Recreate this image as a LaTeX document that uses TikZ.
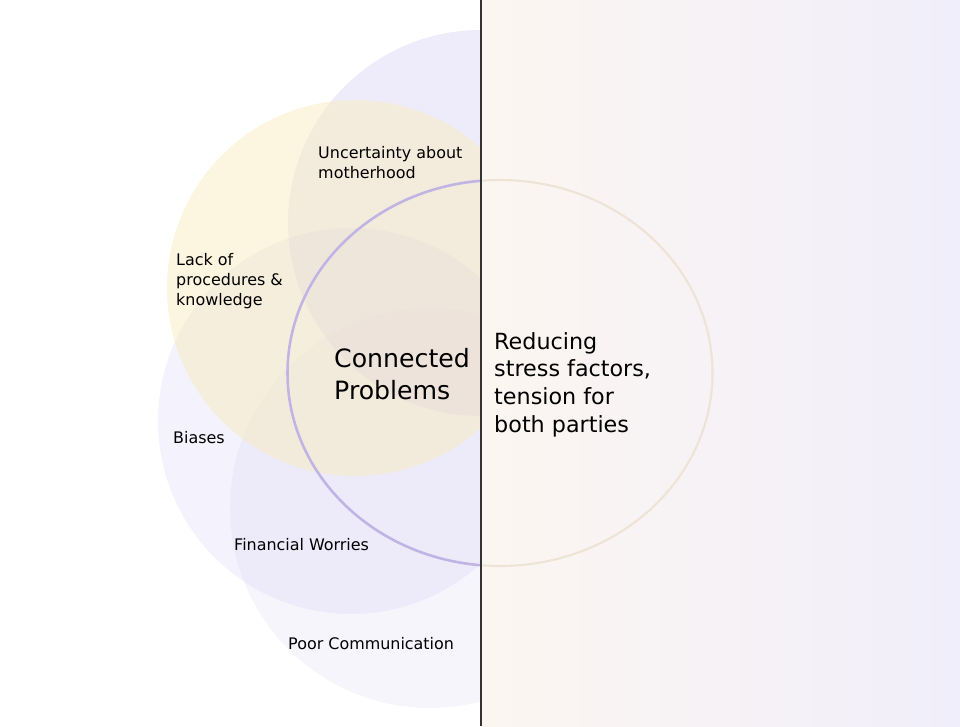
\documentclass[tikz,border=0pt]{standalone}
\usepackage{fontspec}
\setmainfont{DejaVu Sans}
\usetikzlibrary{positioning}
\definecolor{venn-lilac}{HTML}{C6BEEE}
\definecolor{venn-sand}{HTML}{F9EBBF}
\definecolor{panel-peach}{HTML}{FCF6F1}
\definecolor{panel-lilac}{HTML}{F0EEFA}
\definecolor{ring-lilac}{HTML}{C0B4E4}
\definecolor{ring-sand}{HTML}{EEE4D6}
\colorlet{divider}{black!80}
\tikzset{
  problem-circle/.style={draw=none, fill=venn-lilac, fill opacity=0.2},
  problem-label/.style={anchor=base west, inner sep=0pt, align=left, text=black,
    font=\fontsize{13.6}{17}\selectfont},
  center-label/.style={problem-label, font=\fontsize{21.5}{26.5}\selectfont},
  outcome-label/.style={problem-label, font=\fontsize{19}{23.6}\selectfont},
  ring/.style={line width=2.2pt},
}
\newcommand{\tikzproblemcircle}[4][]{%
\fill[problem-circle,#1] (#2,#3) circle (#4);
}

\begin{document}
\begin{tikzpicture}[x=0.03cm, y=-0.03cm]
\useasboundingbox (0,0) rectangle (960,726);
% right panel
\shade[left color=panel-peach, right color=panel-lilac] (481,0) rectangle (960,726);
% problem circles, cut at the divider
\begin{scope}
\clip (0,0) rectangle (481,726);
\tikzproblemcircle[fill opacity=0.3]{481}{223}{193}
\tikzproblemcircle{351}{421}{193}
\tikzproblemcircle[fill opacity=0.15]{430}{508}{200}
\tikzproblemcircle[fill=venn-sand, fill opacity=0.5]{355}{288}{188}
\draw[ring, ring-lilac] (500,373) ellipse [x radius=212.5, y radius=193];
\end{scope}
\begin{scope}
\clip (481,0) rectangle (960,726);
\draw[ring, ring-sand, line width=1.8pt] (500,373) ellipse [x radius=212.5, y radius=193];
\end{scope}
% divider
\draw[divider, line width=1.4pt] (481,0) -- (481,726);
% labels (base is the last line)
\node[problem-label] (uncertainty) at (318,178) {Uncertainty about\\motherhood};
\node[problem-label] (procedures) at (176,305) {Lack of\\procedures \&\\knowledge};
\node[problem-label] (biases) at (173,443) {Biases};
\node[problem-label] (finances) at (234,550) {Financial Worries};
\node[problem-label] (communication) at (288,649) {Poor Communication};
\node[center-label] (connected) at (334,399) {Connected\\Problems};
\node[outcome-label] (reducing) at (494,432) {Reducing\\stress factors,\\tension for\\both parties};
\end{tikzpicture}
\end{document}
